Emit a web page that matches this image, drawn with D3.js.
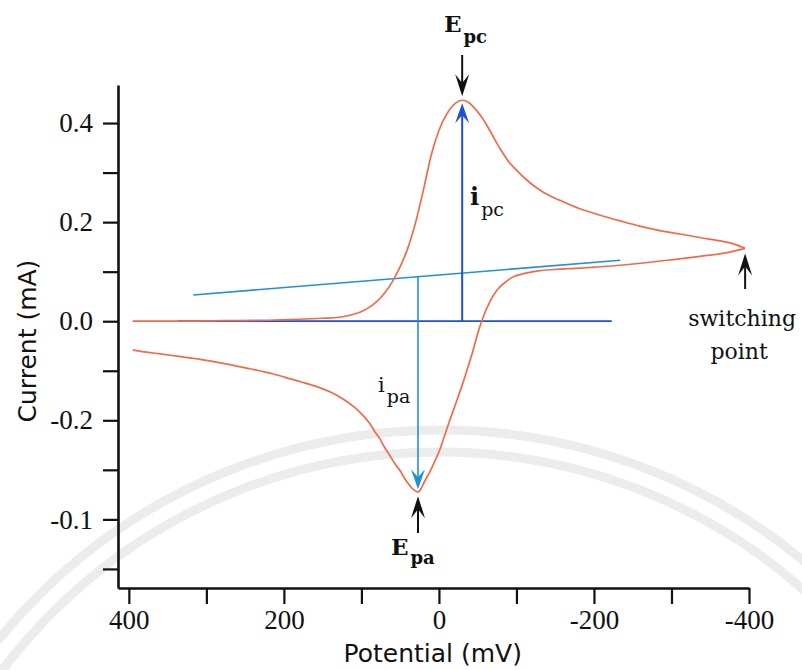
<!DOCTYPE html>
<html>
<head>
<meta charset="utf-8">
<script src="https://cdn.jsdelivr.net/npm/d3@7"></script>
<style>
  body { margin: 0; background: #fff; }
  svg { display: block; }
</style>
</head>
<body>
<svg id="chart" width="802" height="670"></svg>
<script>
// Cyclic voltammogram: forward (cathodic) scan from +400 mV to the switching point, then reverse scan back.
const forwardPotential = [395, 340, 280, 220, 180, 150, 128, 115, 102, 90, 80, 70, 60, 50, 40, 30, 20, 10, 0, -10, -20, -30, -38, -46, -56, -66, -79, -90, -100, -117, -135, -156, -180, -208, -235, -259, -285, -311, -340, -363, -380, -395];
const forwardCurrent   = [0, 0, 0.001, 0.002, 0.004, 0.006, 0.008, 0.012, 0.018, 0.028, 0.04, 0.057, 0.08, 0.11, 0.148, 0.2, 0.265, 0.335, 0.385, 0.418, 0.438, 0.446, 0.442, 0.43, 0.41, 0.384, 0.348, 0.322, 0.305, 0.28, 0.26, 0.244, 0.228, 0.214, 0.202, 0.192, 0.183, 0.176, 0.168, 0.162, 0.156, 0.147];

const reversePotential = [-395, -370, -337, -300, -272, -234, -200, -182, -156, -130, -112, -95, -85, -75, -66, -57, -50, -44, -37, -30, -22, -14, -7, -1, 6, 12, 18, 22, 27, 32, 37, 44, 50, 57, 63, 70, 76, 83, 89, 98, 108, 118, 128, 140, 154, 170, 190, 215, 244, 275, 308, 335, 360, 380, 395];
const reverseCurrent   = [0.147, 0.138, 0.131, 0.124, 0.119, 0.113, 0.109, 0.107, 0.105, 0.102, 0.097, 0.089, 0.078, 0.063, 0.04, 0.008, -0.025, -0.059, -0.095, -0.129, -0.165, -0.2, -0.232, -0.26, -0.285, -0.305, -0.322, -0.335, -0.345, -0.341, -0.333, -0.318, -0.302, -0.287, -0.272, -0.255, -0.238, -0.222, -0.207, -0.19, -0.175, -0.163, -0.153, -0.143, -0.134, -0.126, -0.117, -0.106, -0.096, -0.086, -0.077, -0.071, -0.066, -0.062, -0.058];

// Baselines used to measure the peak currents
const zeroBaselinePotential = [337, -223];
const slopedBaselinePotential = [317, -234];
const slopedBaselineCurrent = [0.053, 0.123];

// Peak and switching positions (potential in mV, current in mA)
const cathodicPeak = [-30, 0.446];
const anodicPeak = [27, -0.345];
const switchingPoint = [-395, 0.147];

// Axis ticks
const xTickValues = [400, 300, 200, 100, 0, -100, -200, -300, -400];
const xTickLabels = ["400", "", "200", "", "0", "", "-200", "", "-400"];
const yTickValues = [0.4, 0.3, 0.2, 0.1, 0, -0.1, -0.2, -0.3, -0.4, -0.5];
const yTickLabels = ["0.4", "", "0.2", "", "0.0", "", "-0.2", "", "-0.1", ""];

const svg = d3.select("#chart");
const x = d3.scaleLinear().domain([414, -400]).range([118, 749]);
const y = d3.scaleLinear().domain([-0.5385, 0.4768]).range([588, 85]);

// Faint seal watermark behind the plot
const wm = svg.append("g").attr("fill", "none").attr("stroke", "#ececec").attr("stroke-width", 9);
[570, 548].forEach(r => wm.append("circle").attr("cx", 440).attr("cy", 1000).attr("r", r));

// Axes
const serif = "'Liberation Serif', 'Times New Roman', serif";
const wideSerif = "'DejaVu Serif', serif";
const sans = "'DejaVu Sans', sans-serif";

const yAxis = svg.append("g")
  .attr("transform", `translate(${x.range()[0]},0)`)
  .call(d3.axisLeft(y).tickValues(yTickValues)
    .tickFormat((d, i) => yTickLabels[i]).tickSize(15).tickSizeOuter(0).tickPadding(10));

const xAxis = svg.append("g")
  .attr("transform", `translate(0,${y.range()[0]})`)
  .call(d3.axisBottom(x).tickValues(xTickValues)
    .tickFormat((d, i) => xTickLabels[i]).tickSize(16).tickSizeOuter(0).tickPadding(6));

[yAxis, xAxis].forEach(g => {
  g.select(".domain").attr("stroke", "#111").attr("stroke-width", 2.6);
  g.selectAll(".tick line").attr("stroke", "#111").attr("stroke-width", 2.2);
  g.selectAll(".tick text").attr("fill", "#111").style("font-family", serif).style("font-size", "27px");
});

svg.append("text")
  .attr("transform", `translate(36,${y(-0.04)}) rotate(-90)`)
  .attr("text-anchor", "middle")
  .style("font-family", sans).style("font-size", "25px").attr("fill", "#111")
  .text("Current (mA)");

svg.append("text")
  .attr("x", x(8)).attr("y", 662)
  .attr("text-anchor", "middle")
  .style("font-family", sans).style("font-size", "25px").attr("fill", "#111")
  .text("Potential (mV)");

// Baselines
const darkBlue = "#1f4fd6";
const lightBlue = "#2290d2";
svg.append("line")
  .attr("x1", x(zeroBaselinePotential[0])).attr("x2", x(zeroBaselinePotential[1]))
  .attr("y1", y(0)).attr("y2", y(0))
  .attr("stroke", darkBlue).attr("stroke-width", 1.8);
svg.append("line")
  .attr("x1", x(slopedBaselinePotential[0])).attr("x2", x(slopedBaselinePotential[1]))
  .attr("y1", y(slopedBaselineCurrent[0])).attr("y2", y(slopedBaselineCurrent[1]))
  .attr("stroke", lightBlue).attr("stroke-width", 1.6);

// Voltammogram
const forward = forwardPotential.map((e, i) => [e, forwardCurrent[i]]);
const reverse = reversePotential.map((e, i) => [e, reverseCurrent[i]]);
const cvLine = d3.line().x(d => x(d[0])).y(d => y(d[1])).curve(d3.curveMonotoneX);
[forward, reverse].forEach(data => svg.append("path")
  .datum(data).attr("d", cvLine)
  .attr("fill", "none").attr("stroke", "#f26a4a").attr("stroke-width", 1.7));

// Arrow helper: shaft from (x0,y0) to tip (x1,y1), barbed head
function arrow(x0, y0, x1, y1, color, width, headLen, headHalf) {
  const dir = Math.sign(y1 - y0);
  svg.append("line").attr("x1", x0).attr("y1", y0).attr("x2", x1).attr("y2", y1 - dir * headLen * 0.5)
    .attr("stroke", color).attr("stroke-width", width);
  const p = d3.path();
  p.moveTo(x1, y1);
  p.lineTo(x1 - headHalf, y1 - dir * headLen);
  p.lineTo(x1, y1 - dir * headLen * 0.6);
  p.lineTo(x1 + headHalf, y1 - dir * headLen);
  p.closePath();
  svg.append("path").attr("d", p.toString()).attr("fill", color);
}

// Peak current arrows
const base = d3.scaleLinear().domain(slopedBaselinePotential).range(slopedBaselineCurrent);
arrow(x(cathodicPeak[0]), y(0), x(cathodicPeak[0]), y(cathodicPeak[1]) + 3, darkBlue, 2, 20, 7);
arrow(x(anodicPeak[0]), y(base(anodicPeak[0])), x(anodicPeak[0]), y(anodicPeak[1]) - 3, lightBlue, 1.6, 20, 7);

// Pointer arrows
arrow(x(cathodicPeak[0]), 55, x(cathodicPeak[0]), y(cathodicPeak[1]) - 4, "#111", 2, 22, 7);
arrow(x(anodicPeak[0]), 533, x(anodicPeak[0]), y(anodicPeak[1]) + 4, "#111", 2, 22, 7);
arrow(x(switchingPoint[0]), 289, x(switchingPoint[0]), y(switchingPoint[1]) + 5, "#111", 2, 22, 7);

// Labels with subscripts
function subLabel(px, py, main, sub, mainSize, subSize, mainBold, subBold, subDy) {
  const t = svg.append("text").attr("x", px).attr("y", py)
    .style("font-family", wideSerif).attr("fill", "#111");
  t.append("tspan").text(main).style("font-size", mainSize + "px").style("font-weight", mainBold ? "bold" : "normal");
  t.append("tspan").attr("dy", subDy).attr("dx", 2).text(sub)
    .style("font-size", subSize + "px").style("font-weight", subBold ? "bold" : "normal");
}
subLabel(444, 32, "E", "pc", 23, 18, true, true, 11);
subLabel(470, 205, "i", "pc", 24, 19, true, false, 11);
subLabel(378, 392, "i", "pa", 21, 19, false, false, 11);
subLabel(391, 555, "E", "pa", 23, 18, true, true, 9);

svg.append("text").attr("x", x(switchingPoint[0]) - 3).attr("y", 326)
  .attr("text-anchor", "middle").style("font-family", wideSerif).style("font-size", "22px").attr("fill", "#111")
  .text("switching");
svg.append("text").attr("x", x(switchingPoint[0]) - 6).attr("y", 359)
  .attr("text-anchor", "middle").style("font-family", wideSerif).style("font-size", "22px").attr("fill", "#111")
  .text("point");
</script>
</body>
</html>
